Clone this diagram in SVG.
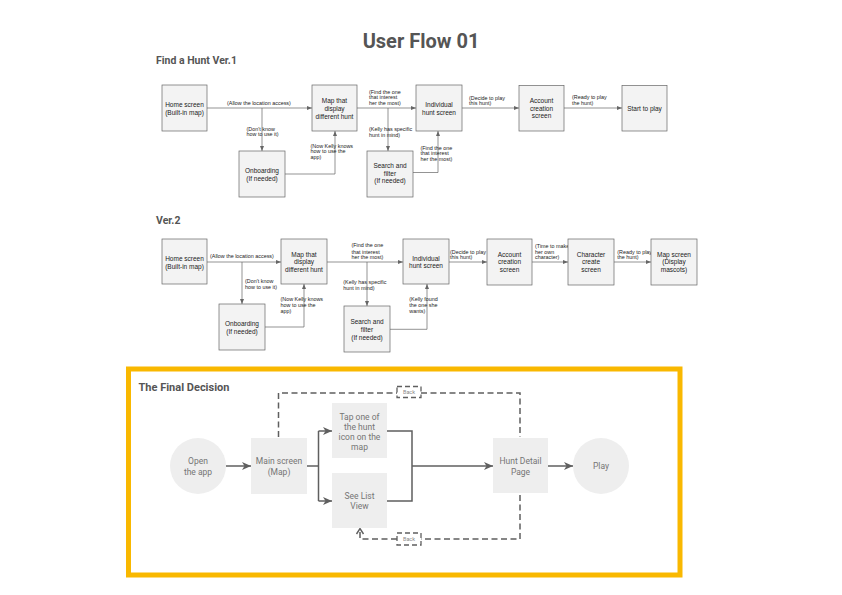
<svg xmlns="http://www.w3.org/2000/svg" width="842" height="595" viewBox="0 0 842 595">
<defs>
<style>
.bg{fill:#ffffff}
.box{fill:#f3f3f3;stroke:#666666;stroke-width:0.7}
.bt{font-family:"Liberation Sans",Arial,sans-serif;font-size:6.5px;fill:#222222;text-anchor:middle}
.lb{font-family:"Liberation Sans",Arial,sans-serif;font-size:5.4px;fill:#222222}
.ln{fill:none;stroke:#666666;stroke-width:0.7}
.h1{font-family:Roboto,"Liberation Sans",sans-serif;font-weight:bold;font-size:20px;fill:#555555;text-anchor:middle}
.h2{font-family:Roboto,"Liberation Sans",sans-serif;font-weight:bold;font-size:10.5px;fill:#555555}
.h3{font-family:Roboto,"Liberation Sans",sans-serif;font-weight:bold;font-size:11px;fill:#555555}
.fn{fill:#eeeeee}
.ft{font-family:Roboto,"Liberation Sans",sans-serif;font-size:8.5px;fill:#757575;text-anchor:middle}
.fl{fill:none;stroke:#5f5f5f;stroke-width:1.5}
.dl{fill:none;stroke:#5f5f5f;stroke-width:1.5;stroke-dasharray:6,3.5}
.bk{fill:#ffffff;stroke:#5f5f5f;stroke-width:1.3;stroke-dasharray:5,3}
.bkt{font-family:Roboto,"Liberation Sans",sans-serif;font-size:5.5px;fill:#888888;text-anchor:middle}
</style>
<marker id="a1" markerWidth="5" markerHeight="4" refX="5" refY="2" orient="auto" markerUnits="userSpaceOnUse">
<path d="M0,0 L5,2 L0,4 z" fill="#666666"/>
</marker>
<marker id="a2" markerWidth="9" markerHeight="8" refX="9" refY="4" orient="auto" markerUnits="userSpaceOnUse">
<path d="M0,0 L9,4 L0,8 L2.5,4 z" fill="#5f5f5f"/>
</marker>
</defs>
<rect class="bg" x="0" y="0" width="842" height="595"/>

<text class="h1" x="421" y="47.5">User Flow 01</text>
<text class="h2" x="156" y="64">Find a Hunt Ver.1</text>
<text class="h2" x="156" y="223.5">Ver.2</text>

<!-- Ver.1 connectors -->
<g id="v1-connectors">
<path class="ln" d="M207,108 L312,108" marker-end="url(#a1)"/>
<path class="ln" d="M262,108 L262,151" marker-end="url(#a1)"/>
<path class="ln" d="M285,174 L335,174 L335,131" marker-end="url(#a1)"/>
<path class="ln" d="M357,108 L416,108" marker-end="url(#a1)"/>
<path class="ln" d="M388,108 L388,151" marker-end="url(#a1)"/>
<path class="ln" d="M413,172.5 L438,172.5 L438,131" marker-end="url(#a1)"/>
<path class="ln" d="M462,108 L519,108" marker-end="url(#a1)"/>
<path class="ln" d="M564,108 L622,108" marker-end="url(#a1)"/>
<text class="lb" x="227" y="104.5">(Allow the location access)</text>
<text class="lb" x="246.5" y="130.5">(Don't know</text>
<text class="lb" x="246.5" y="136.3">how to use it)</text>
<text class="lb" x="310.5" y="147.5">(Now Kelly knows</text>
<text class="lb" x="310.5" y="153.2">how to use the</text>
<text class="lb" x="310.5" y="159">app)</text>
<text class="lb" x="369" y="93.5">(Find the one</text>
<text class="lb" x="369" y="99.2">that interest</text>
<text class="lb" x="369" y="105">her the most)</text>
<text class="lb" x="369" y="131">(Kelly has specific</text>
<text class="lb" x="369" y="136.8">hunt in mind)</text>
<text class="lb" x="420.5" y="149.5">(Find the one</text>
<text class="lb" x="420.5" y="155.2">that interest</text>
<text class="lb" x="420.5" y="161">her the most)</text>
<text class="lb" x="469" y="99.5">(Decide to play</text>
<text class="lb" x="469" y="105.2">this hunt)</text>
<text class="lb" x="572" y="99">(Ready to play</text>
<text class="lb" x="572" y="104.8">the hunt)</text>
</g>

<!-- Ver.1 nodes -->
<g id="v1-home"><rect class="box" x="162" y="85" width="45" height="46"/><text class="bt" x="184.5" y="107">Home screen</text><text class="bt" x="184.5" y="115">(Built-in map)</text></g>
<g id="v1-map"><rect class="box" x="312" y="85" width="45" height="46"/><text class="bt" x="334.5" y="103.3">Map that</text><text class="bt" x="334.5" y="111.2">display</text><text class="bt" x="334.5" y="119">different hunt</text></g>
<g id="v1-individual"><rect class="box" x="416" y="85" width="46" height="46"/><text class="bt" x="439" y="107.2">Individual</text><text class="bt" x="439" y="115">hunt screen</text></g>
<g id="v1-account"><rect class="box" x="519" y="85.5" width="45" height="45.5"/><text class="bt" x="541.5" y="103">Account</text><text class="bt" x="541.5" y="110.6">creation</text><text class="bt" x="541.5" y="118.3">screen</text></g>
<g id="v1-start"><rect class="box" x="622" y="85.5" width="45" height="45.5"/><text class="bt" x="644.5" y="111">Start to play</text></g>
<g id="v1-onboarding"><rect class="box" x="239" y="151" width="46" height="46"/><text class="bt" x="262" y="173">Onboarding</text><text class="bt" x="262" y="180.6">(If needed)</text></g>
<g id="v1-search"><rect class="box" x="367" y="151" width="46" height="46"/><text class="bt" x="390" y="168.3">Search and</text><text class="bt" x="390" y="176">filter</text><text class="bt" x="390" y="183.3">(If needed)</text></g>

<!-- Ver.2 connectors -->
<g id="v2-connectors">
<path class="ln" d="M207,262 L281,262" marker-end="url(#a1)"/>
<path class="ln" d="M242,262 L242,304" marker-end="url(#a1)"/>
<path class="ln" d="M265,327 L304,327 L304,284" marker-end="url(#a1)"/>
<path class="ln" d="M327,262 L403,262" marker-end="url(#a1)"/>
<path class="ln" d="M367,262 L367,306" marker-end="url(#a1)"/>
<path class="ln" d="M390,329.3 L427,329.3 L427,284" marker-end="url(#a1)"/>
<path class="ln" d="M449,262 L487,262" marker-end="url(#a1)"/>
<path class="ln" d="M532,262 L568,262" marker-end="url(#a1)"/>
<path class="ln" d="M614,262 L651,262" marker-end="url(#a1)"/>
<text class="lb" x="210" y="258">(Allow the location access)</text>
<text class="lb" x="245" y="283">(Don't know</text>
<text class="lb" x="245" y="289">how to use it)</text>
<text class="lb" x="280.5" y="301.3">(Now Kelly knows</text>
<text class="lb" x="280.5" y="307">how to use the</text>
<text class="lb" x="280.5" y="312.8">app)</text>
<text class="lb" x="351.5" y="247">(Find the one</text>
<text class="lb" x="351.5" y="253.5">that interest</text>
<text class="lb" x="351.5" y="259.2">her the most)</text>
<text class="lb" x="343.3" y="284.3">(Kelly has specific</text>
<text class="lb" x="343.3" y="290">hunt in mind)</text>
<text class="lb" x="409.3" y="301.3">(Kelly found</text>
<text class="lb" x="409.3" y="307">the one she</text>
<text class="lb" x="409.3" y="312.8">wants)</text>
<text class="lb" x="450" y="253.5">(Decide to play</text>
<text class="lb" x="450" y="259.2">this hunt)</text>
<text class="lb" x="535" y="248">(Time to make</text>
<text class="lb" x="535" y="253.7">her own</text>
<text class="lb" x="535" y="259.3">character)</text>
<text class="lb" x="617.3" y="253.5">(Ready to play</text>
<text class="lb" x="617.3" y="259.2">the hunt)</text>
</g>

<!-- Ver.2 nodes -->
<g id="v2-home"><rect class="box" x="162" y="239" width="45" height="45"/><text class="bt" x="184.5" y="260.6">Home screen</text><text class="bt" x="184.5" y="269">(Built-in map)</text></g>
<g id="v2-map"><rect class="box" x="281" y="239" width="46" height="45"/><text class="bt" x="304" y="256.6">Map that</text><text class="bt" x="304" y="264">display</text><text class="bt" x="304" y="271.6">different hunt</text></g>
<g id="v2-individual"><rect class="box" x="403" y="239" width="46" height="45"/><text class="bt" x="426" y="260.6">Individual</text><text class="bt" x="426" y="268.3">hunt screen</text></g>
<g id="v2-account"><rect class="box" x="487" y="239" width="45" height="46"/><text class="bt" x="509.5" y="256.6">Account</text><text class="bt" x="509.5" y="264">creation</text><text class="bt" x="509.5" y="272">screen</text></g>
<g id="v2-character"><rect class="box" x="568" y="239" width="46" height="46"/><text class="bt" x="591" y="256.6">Character</text><text class="bt" x="591" y="264">create</text><text class="bt" x="591" y="272">screen</text></g>
<g id="v2-mapscreen"><rect class="box" x="651" y="239" width="46" height="46"/><text class="bt" x="674" y="256.6">Map screen</text><text class="bt" x="674" y="264">(Display</text><text class="bt" x="674" y="272">mascots)</text></g>
<g id="v2-onboarding"><rect class="box" x="219" y="304" width="46" height="46"/><text class="bt" x="242" y="325.6">Onboarding</text><text class="bt" x="242" y="334">(If needed)</text></g>
<g id="v2-search"><rect class="box" x="344" y="306" width="46" height="46"/><text class="bt" x="367" y="324">Search and</text><text class="bt" x="367" y="331.6">filter</text><text class="bt" x="367" y="339.6">(If needed)</text></g>

<!-- Final decision frame -->
<rect x="128.5" y="369" width="551.5" height="206" fill="none" stroke="#F9B800" stroke-width="5"/>
<text class="h3" x="138.5" y="391">The Final Decision</text>

<g id="fd-connectors">
<path class="fl" d="M226,466 L251,466" marker-end="url(#a2)"/>
<path class="fl" d="M307,466 L318.5,466"/>
<path class="fl" d="M318.5,431 L318.5,501"/>
<path class="fl" d="M318.5,431 L332,431" marker-end="url(#a2)"/>
<path class="fl" d="M318.5,501 L332,501" marker-end="url(#a2)"/>
<path class="fl" d="M387,431 L412,431 L412,501 L387,501"/>
<path class="fl" d="M412,466 L493,466" marker-end="url(#a2)"/>
<path class="fl" d="M548,466 L573,466" marker-end="url(#a2)"/>
<path class="dl" d="M278.5,437 L278.5,393 L397,393"/>
<path class="dl" d="M421,393 L520,393 L520,437"/>
<path class="dl" d="M520,495 L520,539 L421,539"/>
<path class="dl" d="M397,539 L360,539 L360,529.5"/>
<path d="M356.5,534 L360,528.5 L363.5,534" fill="none" stroke="#5f5f5f" stroke-width="1.4"/>
<rect class="bk" x="397" y="386.5" width="24" height="11"/>
<text class="bkt" x="409" y="394">Back</text>
<rect class="bk" x="397" y="533" width="24" height="12"/>
<text class="bkt" x="409" y="541">Back</text>
</g>

<g id="fd-open"><circle class="fn" cx="198" cy="466" r="28"/><text class="ft" x="198" y="464">Open</text><text class="ft" x="198" y="474.7">the app</text></g>
<g id="fd-main"><rect class="fn" x="251" y="438" width="56" height="56"/><text class="ft" x="279" y="464">Main screen</text><text class="ft" x="279" y="474.7">(Map)</text></g>
<g id="fd-tap"><rect class="fn" x="332" y="403" width="55" height="55"/><text class="ft" x="359.5" y="419.7">Tap one of</text><text class="ft" x="359.5" y="429.7">the hunt</text><text class="ft" x="359.5" y="439.5">icon on the</text><text class="ft" x="359.5" y="449.7">map</text></g>
<g id="fd-list"><rect class="fn" x="332" y="473" width="55" height="55"/><text class="ft" x="359.5" y="498.7">See List</text><text class="ft" x="359.5" y="508.7">View</text></g>
<g id="fd-detail"><rect class="fn" x="493" y="438" width="55" height="55"/><text class="ft" x="520.5" y="464">Hunt Detail</text><text class="ft" x="520.5" y="474.7">Page</text></g>
<g id="fd-play"><circle class="fn" cx="601" cy="466" r="28"/><text class="ft" x="601" y="469">Play</text></g>
</svg>
